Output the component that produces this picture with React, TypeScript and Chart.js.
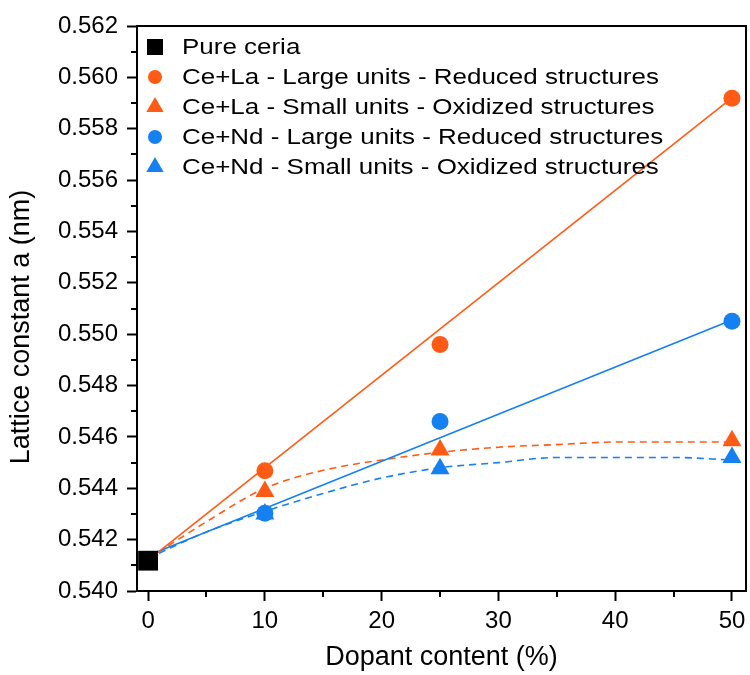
import React, { useEffect, useRef } from 'react';
import { Chart, registerables } from 'chart.js';
import { drawPoint } from 'chart.js/helpers';

Chart.register(...registerables);

const ORANGE = '#FF5B14';
const BLUE = '#1580F0';
const FONT = '"Liberation Sans", Arial, Helvetica, sans-serif';

// ---- data ----
const dopantX = [10, 25, 50];
const pureCeriaX = [0];
const pureCeriaY = [0.54118];
const laLargeY = [0.54468, 0.5496, 0.55919];
const laSmallY = [0.54387, 0.54549, 0.54585];
const ndLargeY = [0.54303, 0.5466, 0.5505];
const ndSmallY = [0.5430, 0.54476, 0.5452];

// fitted lines
const linFitX = [0, 50];
const laLinFitY = [0.5412, 0.5592];
const ndLinFitY = [0.54138, 0.55055];
const curveFitX = [0, 5, 10, 15, 20, 25, 30, 35, 40, 45, 50];
const laCurveY = [0.54125, 0.5427, 0.544, 0.5447, 0.5451, 0.5454, 0.5456, 0.5457, 0.5458, 0.5458, 0.5458];
const ndCurveY = [0.54128, 0.5423, 0.5431, 0.5438, 0.5444, 0.5448, 0.545, 0.5452, 0.5452, 0.5452, 0.5451];

// axes
const xMajorTicks = [0, 10, 20, 30, 40, 50];
const xMinorTicks = [5, 15, 25, 35, 45];
const yMajorTicks = [0.54, 0.542, 0.544, 0.546, 0.548, 0.55, 0.552, 0.554, 0.556, 0.558, 0.56, 0.562];
const yMinorTicks = [0.541, 0.543, 0.545, 0.547, 0.549, 0.551, 0.553, 0.555, 0.557, 0.559, 0.561];

const xTitle = 'Dopant content (%)';
const yTitle = 'Lattice constant a (nm)';

const legendLabels = [
  'Pure ceria',
  'Ce+La - Large units - Reduced structures',
  'Ce+La - Small units - Oxidized structures',
  'Ce+Nd - Large units - Reduced structures',
  'Ce+Nd - Small units - Oxidized structures',
];
const legendStyles = ['rect', 'circle', 'triangle', 'circle', 'triangle'];
const legendColors = ['#000000', ORANGE, ORANGE, BLUE, BLUE];
const legendRadii = [11.3, 7, 10, 7, 10];

const pts = (xs: number[], ys: number[]) => xs.map((x, i) => ({ x, y: ys[i] }));

const framePlugin = {
  id: 'frameAndExtras',
  afterDraw(chart: any) {
    const { ctx, chartArea, scales } = chart;
    const xs = scales.x;
    const ys = scales.y;
    ctx.save();
    // top and right frame lines
    ctx.strokeStyle = '#000';
    ctx.lineWidth = 2;
    ctx.beginPath();
    ctx.moveTo(chartArea.left - 1, chartArea.top);
    ctx.lineTo(chartArea.right, chartArea.top);
    ctx.lineTo(chartArea.right, chartArea.bottom + 1);
    ctx.stroke();
    // minor ticks
    ctx.beginPath();
    xMinorTicks.forEach((v) => {
      const px = Math.round(xs.getPixelForValue(v));
      ctx.moveTo(px, chartArea.bottom);
      ctx.lineTo(px, chartArea.bottom + 6);
    });
    yMinorTicks.forEach((v) => {
      const py = Math.round(ys.getPixelForValue(v));
      ctx.moveTo(chartArea.left, py);
      ctx.lineTo(chartArea.left - 6, py);
    });
    ctx.stroke();
    // y title
    ctx.fillStyle = '#000';
    ctx.font = `27px ${FONT}`;
    ctx.textAlign = 'center';
    ctx.textBaseline = 'middle';
    ctx.translate(22, 327);
    ctx.rotate(-Math.PI / 2);
    ctx.fillText(yTitle, 0, 0);
    ctx.restore();

    // legend
    const lx = chartArea.left + 18;
    const tx = chartArea.left + 45;
    const y0 = chartArea.top + 21;
    const dy = 30;
    legendLabels.forEach((label, i) => {
      const y = y0 + i * dy;
      ctx.save();
      ctx.fillStyle = legendColors[i];
      drawPoint(ctx, { pointStyle: legendStyles[i], radius: legendRadii[i], rotation: 0, borderWidth: 0 } as any, lx, y);
      ctx.fillStyle = '#000';
      ctx.font = `22px ${FONT}`;
      ctx.textAlign = 'left';
      ctx.textBaseline = 'middle';
      ctx.translate(tx, y + 1);
      ctx.scale(1.18, 1);
      ctx.fillText(label, 0, 0);
      ctx.restore();
    });
  },
};

export default function App() {
  const ref = useRef<HTMLCanvasElement | null>(null);

  useEffect(() => {
    document.body.style.margin = '0';
    const canvas = ref.current;
    if (!canvas) return;

    const lineBase = { showLine: true, pointRadius: 0, pointHoverRadius: 0, borderWidth: 1.6, fill: false, order: 10 };
    const pointBase = { showLine: false, borderWidth: 0, clip: false as any };

    const chart = new Chart(canvas, {
      type: 'scatter',
      data: {
        datasets: [
          { ...lineBase, label: 'La linear fit', data: pts(linFitX, laLinFitY), borderColor: ORANGE },
          { ...lineBase, label: 'Nd linear fit', data: pts(linFitX, ndLinFitY), borderColor: BLUE },
          { ...lineBase, label: 'La curve fit', data: pts(curveFitX, laCurveY), borderColor: ORANGE, borderDash: [7, 5], cubicInterpolationMode: 'monotone' },
          { ...lineBase, label: 'Nd curve fit', data: pts(curveFitX, ndCurveY), borderColor: BLUE, borderDash: [7, 5], cubicInterpolationMode: 'monotone' },
          { ...pointBase, label: legendLabels[4], data: pts(dopantX, ndSmallY), pointStyle: 'triangle', pointRadius: 11, backgroundColor: BLUE, order: 5 },
          { ...pointBase, label: legendLabels[3], data: pts(dopantX, ndLargeY), pointStyle: 'circle', pointRadius: 8.5, backgroundColor: BLUE, order: 4 },
          { ...pointBase, label: legendLabels[1], data: pts(dopantX, laLargeY), pointStyle: 'circle', pointRadius: 8.5, backgroundColor: ORANGE, order: 3 },
          { ...pointBase, label: legendLabels[2], data: pts(dopantX, laSmallY), pointStyle: 'triangle', pointRadius: 11, backgroundColor: ORANGE, order: 2 },
          { ...pointBase, label: legendLabels[0], data: pts(pureCeriaX, pureCeriaY), pointStyle: 'rect', pointRadius: 14, backgroundColor: '#000', order: 1 },
        ] as any,
      },
      options: {
        animation: false,
        responsive: false,
        devicePixelRatio: 1,
        events: [],
        layout: { autoPadding: false, padding: { top: 26, right: 4, left: 0, bottom: 0 } },
        plugins: { legend: { display: false }, tooltip: { enabled: false } },
        scales: {
          x: {
            type: 'linear',
            min: -0.95,
            max: 51.2,
            afterBuildTicks: (s: any) => { s.ticks = xMajorTicks.map((v) => ({ value: v })); },
            afterFit: (s: any) => { s.height = 84; s.paddingLeft = 0; s.paddingRight = 0; },
            ticks: { color: '#000', font: { family: FONT, size: 24 }, padding: 6, maxRotation: 0, autoSkip: false, callback: (v: any) => String(v) },
            grid: { display: true, drawOnChartArea: false, drawTicks: true, tickLength: 10, tickWidth: 2, tickColor: '#000' },
            border: { display: true, color: '#000', width: 2 },
            title: { display: true, text: xTitle, color: '#000', font: { family: FONT, size: 27 }, padding: { top: 0, bottom: 1 } },
          },
          y: {
            type: 'linear',
            min: 0.54,
            max: 0.562,
            afterBuildTicks: (s: any) => { s.ticks = yMajorTicks.map((v) => ({ value: v })); },
            afterFit: (s: any) => { s.width = 137; s.paddingTop = 0; s.paddingBottom = 0; },
            ticks: { color: '#000', font: { family: FONT, size: 24 }, padding: 9, autoSkip: false, callback: (v: any) => Number(v).toFixed(3) },
            grid: { display: true, drawOnChartArea: false, drawTicks: true, tickLength: 10, tickWidth: 2, tickColor: '#000' },
            border: { display: true, color: '#000', width: 2 },
            title: { display: false },
          },
        },
      },
      plugins: [framePlugin],
    } as any);

    return () => chart.destroy();
  }, []);

  return (
    <div style={{ position: 'absolute', left: 0, top: 0, width: 750, height: 675, background: '#fff' }}>
      <canvas ref={ref} width={750} height={675} />
    </div>
  );
}
